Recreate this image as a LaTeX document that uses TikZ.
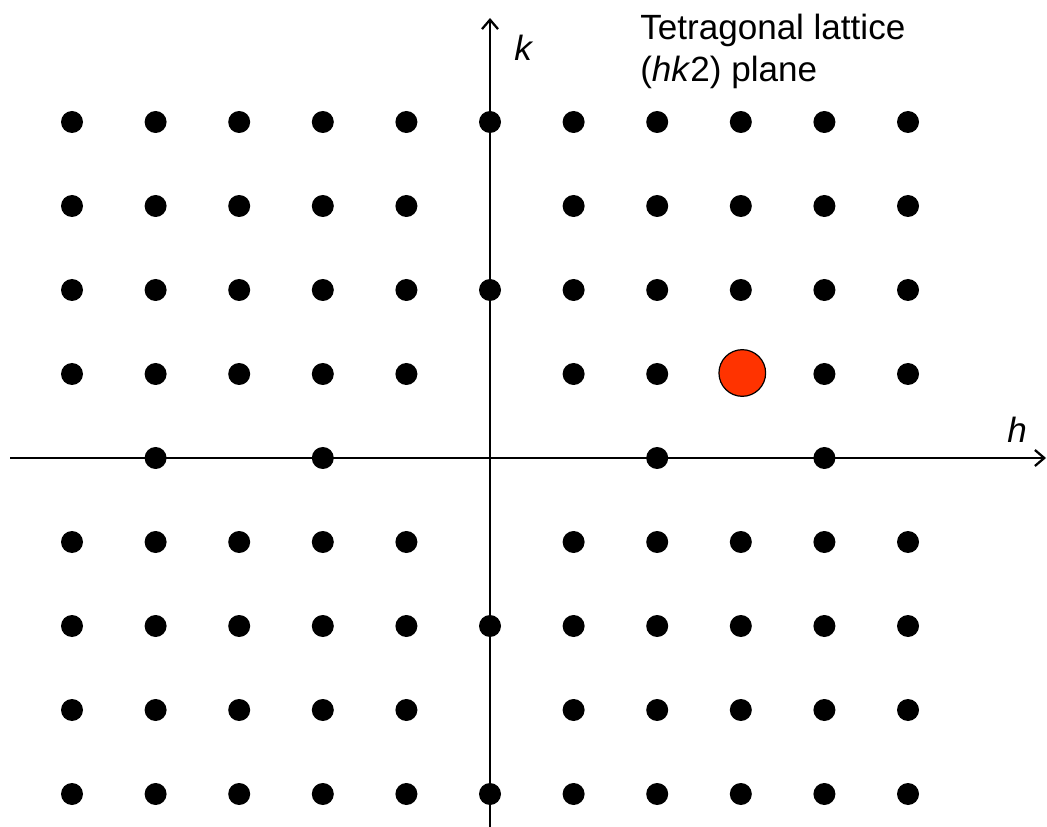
\documentclass[tikz,border=0pt]{standalone}
\usepackage{fontspec}
\setmainfont{Liberation Sans}
\usetikzlibrary{arrows.meta}
\definecolor{spotred}{RGB}{255,51,0}
\tikzset{
  axis/.style={line width=1.7pt,-{Straight Barb[length=7pt,width=12pt,line width=1.7pt]}},
  dot/.style={circle,fill=black,inner sep=0pt,minimum size=16.5pt},
  spot/.style={circle,fill=spotred,draw=black,line width=0.9pt,inner sep=0pt,minimum size=35pt},
  lbl/.style={inner sep=0pt,font=\fontsize{26.3}{31}\selectfont}
}
\begin{document}
\begin{tikzpicture}[x=0.75pt,y=-0.75pt]
\useasboundingbox (0,0) rectangle (1047,827);
% axes
\coordinate (hs) at (10,458);
\coordinate (he) at (1046,458);
\coordinate (ks) at (490,827);
\coordinate (ke) at (490,18);
\draw[axis] (hs) -- (he);
\draw[axis] (ks) -- (ke);
% lattice dots
\foreach \h in {-5,...,5}{
  \foreach \k in {-4,...,4}{
    \pgfmathtruncatemacro{\show}{
      ((\k==0) && (\h==0)) ? 0 :
      ((\k==0) ? (mod(abs(\h),2)==0 ? 1 : 0) :
      ((\h==0) ? (mod(abs(\k),2)==0 ? 1 : 0) :
      (((\h==3) && (\k==1)) ? 0 : 1)))}
    \ifnum\show=1
      \node[dot] (d\h\k) at ({490+83.6*\h},{458-84*\k}) {};
    \fi
  }
}
\node[spot] (red) at ({490+83.6*3+1.5},{458-84*1-1}) {};
% labels
\node[lbl,anchor=base west] (klbl) at (514,61) {\textit{k}};
\node[lbl,anchor=base west] (hlbl) at (1007,443) {\textit{h}};
\node[lbl,anchor=base west] (t1) at (640,40) {Tetragonal lattice};
\node[lbl,anchor=base west] (t2) at (640,82) {(\textit{hk}2) plane};
\end{tikzpicture}
\end{document}
